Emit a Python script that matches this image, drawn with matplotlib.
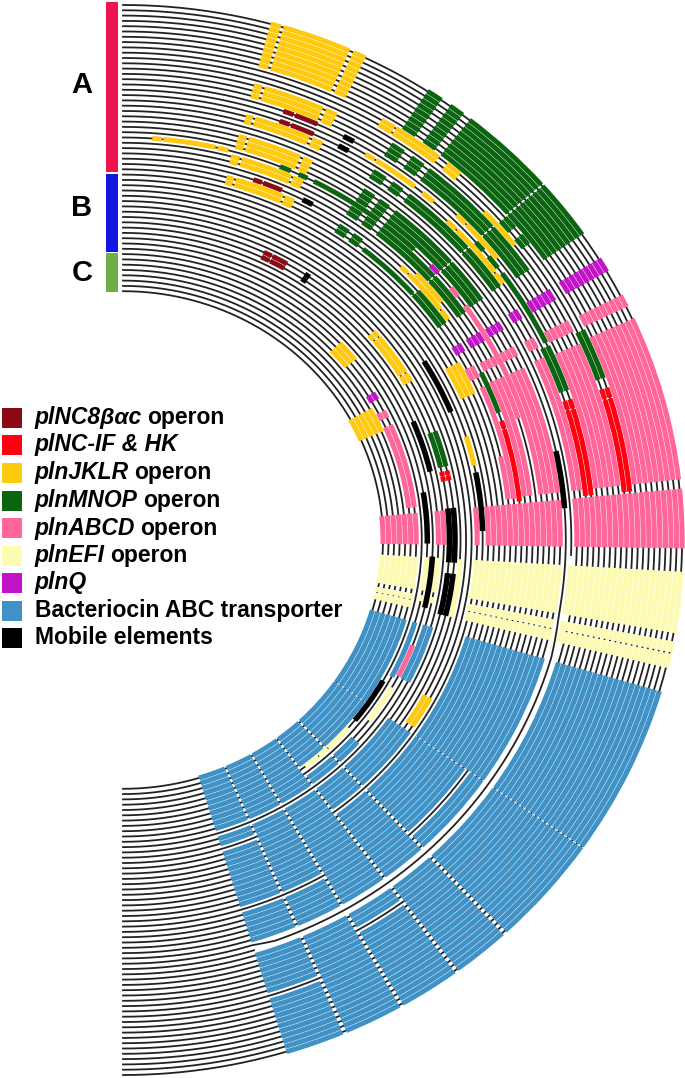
import numpy as np
import matplotlib
matplotlib.use("Agg")
import matplotlib.pyplot as plt
from matplotlib.patches import Rectangle

plt.rcParams["font.family"] = ["Liberation Sans", "DejaVu Sans"]

W, H = 685, 1078
n_tracks = 55

# each record: first track, last track, start angle, end angle (deg clockwise from top)
plnC8 = [
    (15, 15, 19.7, 21.0), (15, 15, 21.2, 24.1),
    (17, 17, 19.7, 21.0), (17, 17, 21.2, 24.2),
    (29, 29, 19.1, 20.4), (29, 29, 20.6, 23.5),
    (41, 42, 25.1, 26.6), (41, 42, 26.8, 29.6),
]
plnC_IF = [
    (9, 10, 71.8, 73.0), (9, 10, 73.1, 84.3),
    (16, 17, 71.8, 73.0), (16, 17, 73.1, 84.3),
    (29, 29, 71.8, 73.0), (29, 29, 73.1, 84.2),
    (41, 42, 77.4, 78.2), (41, 42, 78.3, 79.2),
]
plnJKLR = [
    (0, 8, 15.3, 16.4), (0, 8, 16.7, 23.9), (0, 8, 24.3, 25.7),
    (12, 14, 15.4, 16.4), (12, 14, 16.7, 23.9), (12, 14, 24.3, 25.7),
    (18, 19, 15.5, 16.4), (18, 19, 16.7, 23.9), (18, 19, 24.3, 25.7),
    (22, 24, 15.3, 16.4), (22, 24, 16.7, 23.9), (22, 24, 24.3, 25.6),
    (25, 25, 4.0, 5.3), (25, 25, 5.5, 12.7), (25, 25, 13.0, 14.5),
    (26, 27, 15.1, 16.3), (26, 27, 16.6, 23.9), (26, 27, 24.2, 25.7),
    (30, 31, 15.3, 16.4), (30, 31, 16.7, 24.0), (30, 31, 24.3, 25.8),
    (9, 10, 30.5, 32.2), (9, 10, 32.4, 38.3), (9, 10, 39.5, 41.4),
    (16, 16, 31.0, 32.3), (16, 16, 32.5, 38.3), (16, 16, 39.5, 41.3),
    (11, 11, 46.5, 51.8),
    (15, 15, 44.5, 46.0), (15, 15, 46.2, 51.8),
    (17, 17, 44.2, 45.7), (17, 17, 45.9, 53.0), (17, 17, 53.2, 54.8),
    (29, 29, 44.2, 45.6), (29, 29, 45.8, 52.8), (29, 29, 53.0, 54.7),
    (28, 28, 46.5, 52.0),
    (47, 49, 46.5, 51.0),
    (41, 42, 49.0, 50.2), (41, 42, 50.4, 58.2), (41, 42, 58.4, 60.1),
    (32, 34, 61.0, 66.5),
    (50, 54, 61.0, 66.4),
    (36, 36, 72.5, 77.5),
    (38, 39, 118.2, 123.9),
]
plnMNOP = [
    (0, 8, 33.0, 34.7), (0, 8, 35.8, 37.4), (0, 8, 38.3, 48.4), (0, 8, 48.6, 55.2),
    (9, 10, 48.6, 50.2), (9, 10, 51.3, 52.7),
    (12, 14, 33.0, 34.7), (12, 14, 35.8, 37.5), (12, 14, 38.3, 48.4), (12, 14, 48.6, 55.2),
    (16, 16, 48.6, 50.0), (16, 16, 51.0, 52.8), (16, 16, 53.7, 64.0),
    (18, 19, 33.0, 34.8), (18, 19, 35.8, 37.4), (18, 19, 38.4, 48.4), (18, 19, 48.6, 54.9),
    (22, 24, 33.3, 35.0), (22, 24, 35.8, 37.4), (22, 24, 38.4, 48.4), (22, 24, 48.6, 55.0),
    (25, 25, 21.9, 23.5), (25, 25, 24.7, 26.0), (25, 25, 27.0, 37.4), (25, 25, 38.4, 43.8),
    (26, 27, 33.2, 35.0), (26, 27, 35.8, 37.4), (26, 27, 38.4, 48.4), (26, 27, 48.6, 55.2),
    (30, 31, 33.3, 35.0), (30, 31, 35.8, 37.4), (31, 31, 38.3, 48.4), (30, 31, 48.6, 54.9),
    (9, 10, 64.5, 70.6), (16, 17, 64.5, 70.6), (29, 29, 64.0, 70.5), (41, 42, 70.0, 76.6),
]
plnABCD = [
    (0, 8, 62.8, 64.2), (11, 15, 62.7, 64.2), (18, 19, 62.7, 64.2), (22, 28, 62.6, 64.0),
    (30, 31, 62.5, 64.5), (48, 49, 62.6, 64.2),
    (25, 25, 51.2, 52.8), (25, 25, 54.4, 65.8),
    (0, 8, 65.6, 83.5), (11, 15, 65.8, 83.5), (18, 19, 65.6, 83.5),
    (22, 25, 65.8, 83.5), (26, 26, 65.8, 72.2), (27, 28, 65.8, 83.5),
    (30, 30, 66.0, 83.7), (31, 31, 77.0, 83.7), (48, 49, 65.8, 83.3),
    (0, 19, 84.5, 90.9), (22, 35, 84.5, 90.9), (37, 37, 84.5, 90.9),
    (43, 44, 84.5, 90.9), (48, 54, 84.5, 90.9),
    (45, 45, 110.8, 117.3),
]
plnEFI = [
    (0, 20, 93.4, 100.0), (0, 20, 100.9, 102.1), (0, 20, 102.25, 103.8),
    (22, 37, 93.4, 100.0), (22, 37, 100.9, 102.1), (22, 37, 102.25, 103.8),
    (40, 40, 93.4, 103.8),
    (44, 44, 93.4, 100.0), (44, 44, 100.9, 102.1), (46, 46, 93.4, 100.0), (46, 46, 100.9, 102.1),
    (48, 54, 93.4, 100.0), (48, 54, 100.9, 102.1), (48, 54, 102.25, 103.8),
    (45, 45, 119.8, 127.5),
    (47, 47, 131.0, 136.6), (47, 47, 136.8, 139.0), (47, 47, 139.2, 142.4),
]
plnQ = [
    (0, 8, 58.3, 59.9), (11, 15, 58.4, 59.9), (18, 19, 58.5, 59.9), (22, 24, 58.7, 60.0),
    (26, 28, 58.6, 60.1), (30, 31, 58.6, 60.0), (48, 49, 58.4, 60.0), (25, 25, 47.0, 48.5),
]
abc_transporter = [
    (0, 19, 106.4, 124.9), (22, 36, 106.4, 124.9), (43, 44, 106.4, 117.5), (46, 46, 106.4, 118.0), (48, 54, 106.4, 124.9),
    (0, 19, 125.0, 136.9), (22, 24, 125.0, 136.9), (26, 36, 125.0, 136.9), (38, 42, 125.0, 136.9),
    (44, 45, 132.0, 136.9), (48, 54, 125.0, 136.9),
    (0, 19, 137.3, 143.3), (22, 36, 137.3, 143.3), (38, 42, 137.3, 143.3), (44, 45, 137.3, 143.3), (48, 54, 137.3, 143.3),
    (0, 15, 143.7, 150.0), (17, 19, 143.7, 150.0), (22, 42, 143.7, 150.0), (44, 54, 143.7, 150.0),
    (0, 19, 150.4, 156.5), (22, 27, 150.4, 156.5), (29, 42, 150.4, 156.5), (44, 54, 150.4, 156.5),
    (0, 10, 156.9, 163.0), (12, 19, 156.9, 163.0), (22, 27, 156.9, 163.0), (29, 39, 156.9, 163.0),
    (41, 42, 156.9, 163.0), (44, 54, 156.9, 163.0),
]
mobile = [
    (15, 15, 27.6, 29.0), (17, 17, 27.6, 29.0), (29, 29, 26.8, 28.4), (41, 42, 33.2, 34.2),
    (37, 37, 58.2, 67.8), (44, 44, 66.9, 76.9), (21, 21, 77.9, 85.7), (36, 36, 78.7, 88.5),
    (46, 46, 80.6, 90.7), (41, 42, 84.2, 94.1), (45, 45, 93.2, 103.2), (41, 42, 96.1, 103.8),
    (47, 47, 119.5, 129.1),
]

groups = [plnC8, plnC_IF, plnJKLR, plnMNOP, plnABCD, plnEFI, plnQ, abc_transporter, mobile]
group_colors = ["#8b0a14", "#ff0010", "#ffc90e", "#0b6410", "#ff6699", "#fdfbb2", "#c313c9", "#4092c6", "#000000"]
legend_names = [("plNC8βαc", " operon"), ("plNC-IF & HK", ""), ("plnJKLR", " operon"), ("plnMNOP", " operon"),
                ("plnABCD", " operon"), ("plnEFI", " operon"), ("plnQ", ""), ("", "Bacteriocin ABC transporter"),
                ("", "Mobile elements")]
clade_names = ["A", "B", "C"]
clade_colors = ["#ee1450", "#1414e0", "#70ad47"]
clade_spans = [(2, 172), (174, 252), (253, 292)]

fig = plt.figure(figsize=(W / 100, H / 100), dpi=100)

# elliptical polar axes: centre at pixel (123, 540), radius in track numbers
cx, cy = 123, 540
rx, ry = 564.3, 540
ax = fig.add_axes([(cx - rx) / W, (H - cy - ry) / H, 2 * rx / W, 2 * ry / H], projection="polar")
ax.set_aspect("auto")
ax.set_theta_zero_location("N")
ax.set_theta_direction(-1)
ax.set_rlim(100.94, -0.94)
ax.set_thetalim(0, 2 * np.pi)
ax.axis("off")

arc = np.linspace(0, 180, 721)
for t in range(n_tracks):
    r = np.full(arc.size, float(t))
    if t == 20:
        # track 20 is hidden where 21 sits alone between the blocks
        ax.plot(np.deg2rad(arc[arc <= 92]), r[arc <= 92], color="#222222", lw=1.3, zorder=1)
        ax.plot(np.deg2rad(arc[arc >= 163]), r[arc >= 163], color="#222222", lw=1.3, zorder=1)
        continue
    if t == 21:
        r = np.interp(arc, [0, 100, 106, 160, 163, 180], [21, 21, 20.5, 20.5, 21, 21])
    ax.plot(np.deg2rad(arc), r, color="#222222", lw=1.3, zorder=1)

for recs, col in zip(groups, group_colors):
    z = 4 if col == "#000000" else 3
    h = 1.0 if col == "#000000" else 0.92
    for first, last, a, b in recs:
        for t in range(first, last + 1):
            ax.bar(np.deg2rad((a + b) / 2), h, width=np.deg2rad(b - a), bottom=t - h / 2,
                   color=col, linewidth=0, zorder=z)

over = fig.add_axes([0, 0, 1, 1])
over.set_xlim(0, W)
over.set_ylim(H, 0)
over.axis("off")
over.patch.set_alpha(0)

for name, col, (y0, y1), ty in zip(clade_names, clade_colors, clade_spans, [85, 208, 273]):
    over.add_patch(Rectangle((106, y0), 12, y1 - y0, color=col, lw=0))
    over.text(82, ty, name, fontsize=21, fontweight="bold", ha="center", va="center")

renderer = fig.canvas.get_renderer()
legend_y = [417.5, 445, 473, 500.5, 528, 555.5, 583, 611, 638]
for (it, plain), col, y in zip(legend_names, group_colors, legend_y):
    over.add_patch(Rectangle((2.5, y - 10), 20, 20, color=col, lw=0))
    x = 35
    if it:
        t = over.text(x, y, it, fontsize=16.5, fontweight="bold", style="italic", va="center")
        bb = t.get_window_extent(renderer)
        x = bb.x1
    if plain:
        over.text(x + (5 if it else 0), y, plain.strip(), fontsize=16.5, fontweight="bold", va="center")

fig.savefig("out.png", dpi=100)
